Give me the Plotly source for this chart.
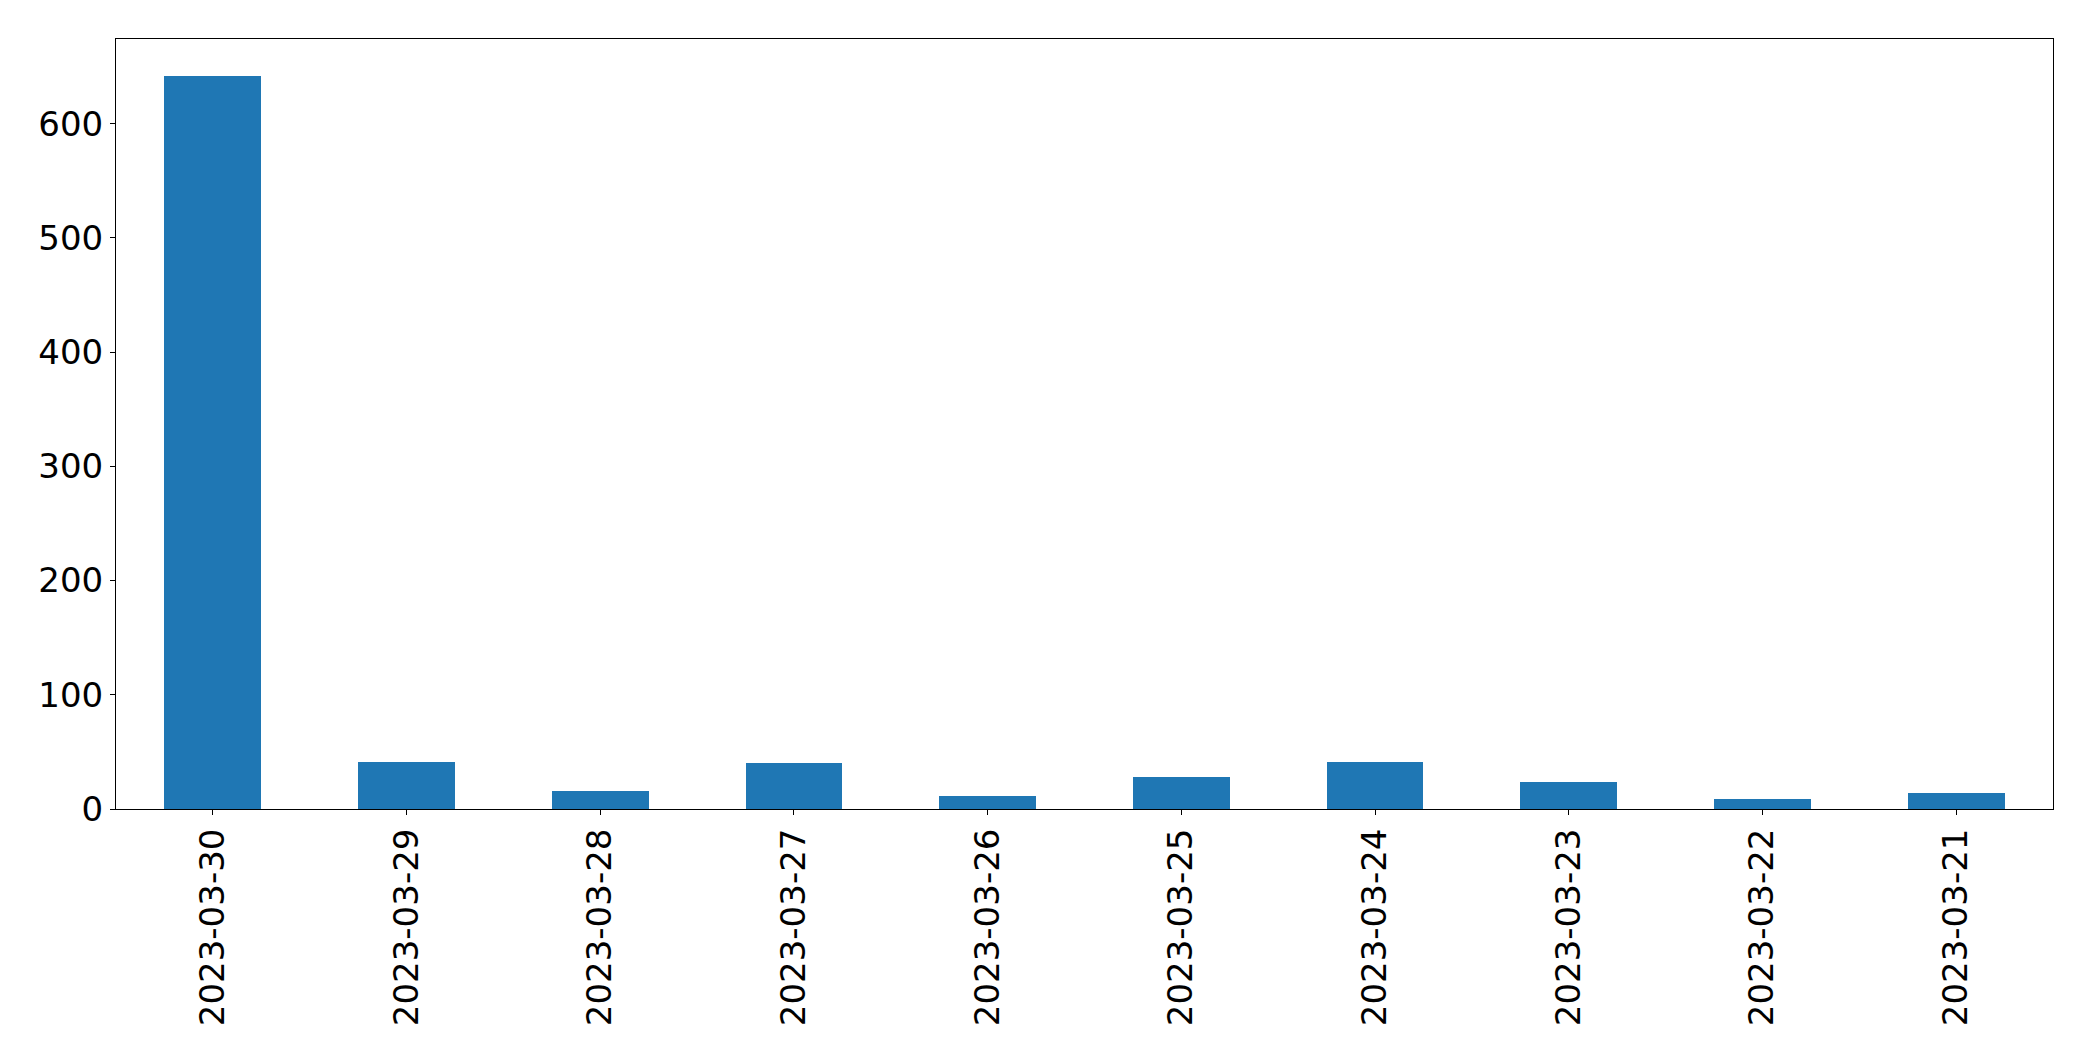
import plotly.graph_objects as go

dates = ["2023-03-30", "2023-03-29", "2023-03-28", "2023-03-27", "2023-03-26",
         "2023-03-25", "2023-03-24", "2023-03-23", "2023-03-22", "2023-03-21"]
counts = [642, 41, 16, 40, 11, 28, 41, 24, 9, 14]
y_ticks = [0, 100, 200, 300, 400, 500, 600]

fig = go.Figure()
fig.add_trace(go.Bar(x=list(range(len(dates))), y=counts, width=0.5,
                     marker=dict(color="#1f77b4", line=dict(width=0))))

font = dict(family="DejaVu Sans", size=34, color="black")
fig.update_layout(
    width=2085, height=1053,
    margin=dict(l=108, r=40, t=31, b=252, pad=0),
    paper_bgcolor="white", plot_bgcolor="white",
    showlegend=False, bargap=0,
    font=font,
)
fig.update_xaxes(
    range=[-0.5, len(dates) - 0.5],
    tickmode="array", tickvals=list(range(len(dates))), ticktext=dates,
    tickangle=-90, ticks="outside", ticklen=5, tickwidth=1, tickcolor="black",
    showline=True, linecolor="black", linewidth=1, mirror=True,
    showgrid=False, zeroline=False, tickfont=font,
)
fig.update_yaxes(
    range=[0, 642 * 1.05],
    tickmode="array", tickvals=y_ticks,
    ticks="outside", ticklen=5, tickwidth=1, tickcolor="black",
    showline=True, linecolor="black", linewidth=1, mirror=True,
    showgrid=False, zeroline=False, tickfont=font,
)
fig.write_html("out.html")
